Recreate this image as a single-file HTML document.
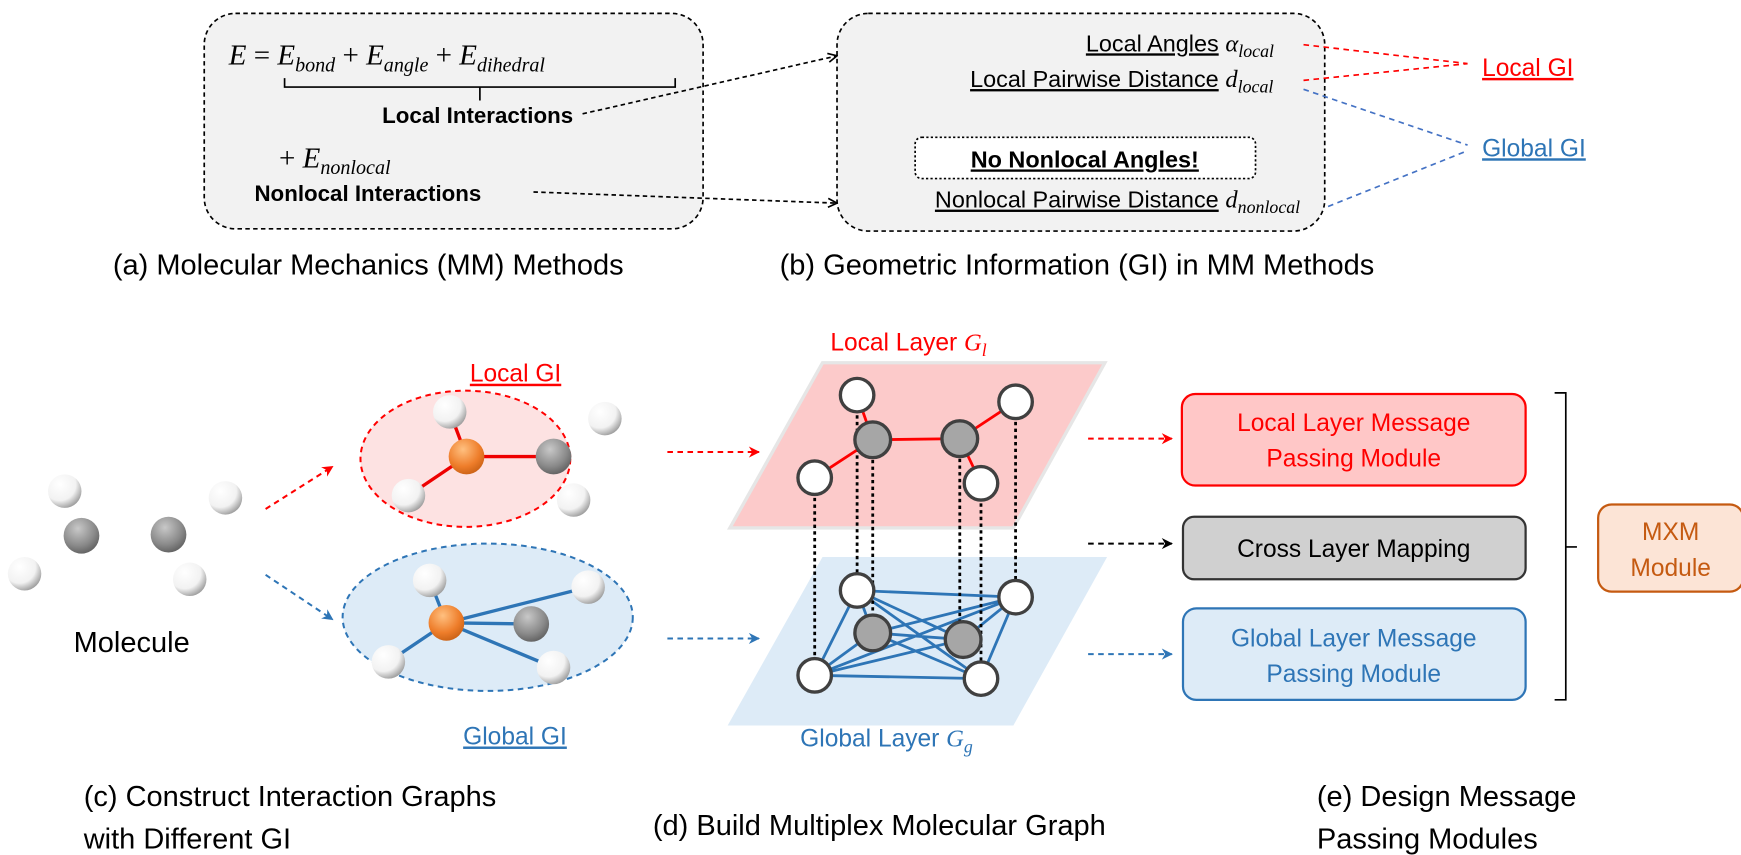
<!DOCTYPE html>
<html><head><meta charset="utf-8"><style>
body{margin:0;background:#fff}
svg{display:block;font-family:"Liberation Sans",sans-serif}
.m{font-family:"Liberation Serif",serif;font-style:italic}
</style></head><body>
<svg width="1741" height="855" viewBox="0 0 1560 766" preserveAspectRatio="none" xmlns="http://www.w3.org/2000/svg">
<defs>
<radialGradient id="gw" cx="0.35" cy="0.3" r="0.8"><stop offset="0" stop-color="#fff"/><stop offset="0.6" stop-color="#f2f2f2"/><stop offset="1" stop-color="#8a8a8a"/></radialGradient>
<radialGradient id="gg" cx="0.4" cy="0.3" r="0.8"><stop offset="0" stop-color="#c8c8c8"/><stop offset="0.6" stop-color="#8a8a8a"/><stop offset="1" stop-color="#555"/></radialGradient>
<radialGradient id="go" cx="0.4" cy="0.3" r="0.8"><stop offset="0" stop-color="#ffc080"/><stop offset="0.6" stop-color="#ee7d2a"/><stop offset="1" stop-color="#c05a10"/></radialGradient>
<marker id="ak" markerWidth="10" markerHeight="10" refX="9" refY="5" orient="auto" markerUnits="userSpaceOnUse"><path d="M1,1 L9,5 L1,9" fill="none" stroke="#000" stroke-width="1.5"/></marker>
<marker id="ar" markerWidth="12" markerHeight="12" refX="10" refY="6" orient="auto" markerUnits="userSpaceOnUse"><path d="M1,1 L11,6 L1,11 L4,6z" fill="#f00"/></marker>
<marker id="ab" markerWidth="12" markerHeight="12" refX="10" refY="6" orient="auto" markerUnits="userSpaceOnUse"><path d="M1,1 L11,6 L1,11 L4,6z" fill="#2e75b6"/></marker>
<marker id="ak2" markerWidth="12" markerHeight="12" refX="10" refY="6" orient="auto" markerUnits="userSpaceOnUse"><path d="M1,1 L11,6 L1,11 L4,6z" fill="#000"/></marker>
</defs>

<!-- (a) box -->
<rect x="183" y="12" width="447" height="193" rx="28" fill="#f2f2f2" stroke="#000" stroke-width="1.5" stroke-dasharray="4,3"/>
<text x="205" y="58" font-size="26" class="m">E <tspan font-style="normal">=</tspan> E<tspan font-size="18" dy="6">bond</tspan><tspan dy="-6" font-style="normal"> + </tspan>E<tspan font-size="18" dy="6">angle</tspan><tspan dy="-6" font-style="normal"> + </tspan>E<tspan font-size="18" dy="6">dihedral</tspan></text>
<path d="M255,70 v8 h350 v-8 M430,78 v12" fill="none" stroke="#000" stroke-width="1.5"/>
<text x="428" y="110" font-size="20" font-weight="bold" text-anchor="middle">Local Interactions</text>
<text x="250" y="150" font-size="26" class="m"><tspan font-style="normal">+ </tspan>E<tspan font-size="18" dy="6">nonlocal</tspan></text>
<text x="228" y="180" font-size="20" font-weight="bold">Nonlocal Interactions</text>

<!-- (b) box -->
<rect x="750" y="12" width="437" height="195" rx="28" fill="#f2f2f2" stroke="#000" stroke-width="1.5" stroke-dasharray="4,3"/>
<text x="1092" y="46" font-size="21" text-anchor="end" text-decoration="underline">Local Angles</text>
<text x="1098" y="46" font-size="22" class="m">α<tspan font-size="16" dy="5">local</tspan></text>
<text x="1092" y="78" font-size="21" text-anchor="end" text-decoration="underline">Local Pairwise Distance</text>
<text x="1098" y="78" font-size="22" class="m">d<tspan font-size="16" dy="5">local</tspan></text>
<rect x="820" y="123" width="305" height="37" rx="6" fill="#fff" stroke="#000" stroke-width="1.5" stroke-dasharray="2,2"/>
<text x="972" y="150" font-size="21" font-weight="bold" text-anchor="middle" text-decoration="underline">No Nonlocal Angles!</text>
<text x="1092" y="186" font-size="21" text-anchor="end" text-decoration="underline">Nonlocal Pairwise Distance</text>
<text x="1098" y="186" font-size="22" class="m">d<tspan font-size="16" dy="5">nonlocal</tspan></text>

<path d="M1168,40 L1315,57 M1168,72 L1315,57" stroke="#f00" stroke-width="1.5" stroke-dasharray="5,4" fill="none"/>
<path d="M1168,80 L1315,130 M1190,185 L1315,135" stroke="#4472c4" stroke-width="1.5" stroke-dasharray="5,4" fill="none"/>
<text x="1328" y="68" font-size="22" fill="#f00" text-decoration="underline">Local GI</text>
<text x="1328" y="140" font-size="22" fill="#2e75b6" text-decoration="underline">Global GI</text>

<path d="M522,102 L750,50" stroke="#000" stroke-width="1.5" stroke-dasharray="4,3" marker-end="url(#ak)"/>
<path d="M478,172 L750,182" stroke="#000" stroke-width="1.5" stroke-dasharray="4,3" marker-end="url(#ak)"/>

<text x="330" y="246" font-size="26" text-anchor="middle">(a) Molecular Mechanics (MM) Methods</text>
<text x="965" y="246" font-size="26" text-anchor="middle">(b) Geometric Information (GI) in MM Methods</text>

<!-- molecule -->
<circle cx="58" cy="440" r="15" fill="url(#gw)"/>
<circle cx="73" cy="480" r="16" fill="url(#gg)"/>
<circle cx="22" cy="514" r="15" fill="url(#gw)"/>
<circle cx="151" cy="479" r="16" fill="url(#gg)"/>
<circle cx="202" cy="446" r="15" fill="url(#gw)"/>
<circle cx="170" cy="519" r="15" fill="url(#gw)"/>
<text x="118" y="584" font-size="26" text-anchor="middle">Molecule</text>
<path d="M238,456 L298,418" stroke="#f00" stroke-width="1.8" stroke-dasharray="5,4" marker-end="url(#ar)"/>
<path d="M238,515 L298,555" stroke="#2e75b6" stroke-width="1.8" stroke-dasharray="5,4" marker-end="url(#ab)"/>

<!-- local GI ellipse -->
<ellipse cx="417" cy="411" rx="94" ry="61" fill="#fde2e2" stroke="#f00" stroke-width="1.8" stroke-dasharray="5,4"/>
<path d="M403,369 L418,409 L496,409 M418,409 L366,444" stroke="#e00" stroke-width="3" fill="none"/>
<circle cx="403" cy="369" r="15" fill="url(#gw)"/>
<circle cx="418" cy="409" r="16" fill="url(#go)"/>
<circle cx="496" cy="409" r="16" fill="url(#gg)"/>
<circle cx="366" cy="444" r="15" fill="url(#gw)"/>
<circle cx="542" cy="375" r="15" fill="url(#gw)"/>
<circle cx="514" cy="448" r="15" fill="url(#gw)"/>
<text x="421" y="342" font-size="22" fill="#f00" text-decoration="underline">Local GI</text>

<!-- global GI ellipse -->
<ellipse cx="437" cy="553" rx="130" ry="66" fill="#ddebf7" stroke="#2e75b6" stroke-width="1.8" stroke-dasharray="5,4"/>
<path d="M385,520 L400,558 L527,526 M400,558 L476,559 M400,558 L496,598 M400,558 L348,593" stroke="#2e75b6" stroke-width="3" fill="none"/>
<circle cx="385" cy="520" r="15" fill="url(#gw)"/>
<circle cx="400" cy="558" r="16" fill="url(#go)"/>
<circle cx="476" cy="559" r="16" fill="url(#gg)"/>
<circle cx="527" cy="526" r="15" fill="url(#gw)"/>
<circle cx="348" cy="593" r="15" fill="url(#gw)"/>
<circle cx="496" cy="598" r="15" fill="url(#gw)"/>
<text x="415" y="667" font-size="22" fill="#2e75b6" text-decoration="underline">Global GI</text>

<path d="M598,405 L680,405" stroke="#f00" stroke-width="1.8" stroke-dasharray="5,4" marker-end="url(#ar)"/>
<path d="M598,572 L680,572" stroke="#2e75b6" stroke-width="1.8" stroke-dasharray="5,4" marker-end="url(#ab)"/>

<!-- multiplex -->
<text x="744" y="314" font-size="22" fill="#f00">Local Layer <tspan class="m">G<tspan font-size="16" dy="5">l</tspan></tspan></text>
<polygon points="737,325 990,325 908,473 654,473" fill="#fccaca" stroke="#e6e6e6" stroke-width="3"/>
<polygon points="737,499 992,499 908,650 652,650" fill="#ddebf7"/>
<g stroke="#2e75b6" stroke-width="2.5">
<path d="M768,529 L910,535 M768,529 L863,573 M768,529 L730,605 M768,529 L879,608 M910,535 L782,567 M910,535 L730,605 M910,535 L879,608 M782,567 L879,608 M782,567 L863,573 M863,573 L730,605 M730,605 L879,608 M782,567 L730,605 M863,573 L910,535 M768,529 L782,567"/>
</g>
<g stroke="#000" stroke-width="2.5" stroke-dasharray="3,3">
<path d="M768,354 V529 M782,394 V567 M860,393 V573 M910,360 V535 M730,428 V605 M879,433 V608"/>
</g>
<path d="M768,354 L782,394 L730,428 M782,394 L860,393 L910,360 M860,393 L879,433" stroke="#f00" stroke-width="2.5" fill="none"/>
<g stroke="#404040" stroke-width="3">
<circle cx="768" cy="354" r="15" fill="#fff"/><circle cx="782" cy="394" r="16" fill="#a6a6a6"/>
<circle cx="860" cy="393" r="16" fill="#a6a6a6"/><circle cx="910" cy="360" r="15" fill="#fff"/>
<circle cx="730" cy="428" r="15" fill="#fff"/><circle cx="879" cy="433" r="15" fill="#fff"/>
<circle cx="768" cy="529" r="15" fill="#fff"/><circle cx="910" cy="535" r="15" fill="#fff"/>
<circle cx="782" cy="567" r="16" fill="#a6a6a6"/><circle cx="863" cy="573" r="16" fill="#a6a6a6"/>
<circle cx="730" cy="605" r="15" fill="#fff"/><circle cx="879" cy="608" r="15" fill="#fff"/>
</g>
<text x="717" y="669" font-size="22" fill="#2e75b6">Global Layer <tspan class="m">G<tspan font-size="16" dy="5">g</tspan></tspan></text>

<path d="M975,393 L1050,393" stroke="#f00" stroke-width="1.8" stroke-dasharray="5,4" marker-end="url(#ar)"/>
<path d="M975,487 L1050,487" stroke="#000" stroke-width="1.8" stroke-dasharray="5,4" marker-end="url(#ak2)"/>
<path d="M975,586 L1050,586" stroke="#2e75b6" stroke-width="1.8" stroke-dasharray="5,4" marker-end="url(#ab)"/>

<rect x="1059" y="353" width="308" height="82" rx="12" fill="#ffc7c7" stroke="#f00" stroke-width="2"/>
<text x="1213" y="386" font-size="22" fill="#f00" text-anchor="middle">Local Layer Message</text>
<text x="1213" y="418" font-size="22" fill="#f00" text-anchor="middle">Passing Module</text>
<rect x="1060" y="463" width="307" height="56" rx="10" fill="#d0d0d0" stroke="#333" stroke-width="2"/>
<text x="1213" y="499" font-size="22" text-anchor="middle">Cross Layer Mapping</text>
<rect x="1060" y="545" width="307" height="82" rx="12" fill="#ddebf7" stroke="#2e75b6" stroke-width="2"/>
<text x="1213" y="579" font-size="22" fill="#2e75b6" text-anchor="middle">Global Layer Message</text>
<text x="1213" y="611" font-size="22" fill="#2e75b6" text-anchor="middle">Passing Module</text>
<path d="M1393,352 h10 v275 h-10 M1403,490 h10" stroke="#000" stroke-width="1.5" fill="none"/>
<rect x="1432" y="452" width="130" height="78" rx="12" fill="#fce4d6" stroke="#c55a11" stroke-width="2"/>
<text x="1497" y="484" font-size="22" fill="#c55a11" text-anchor="middle">MXM</text>
<text x="1497" y="516" font-size="22" fill="#c55a11" text-anchor="middle">Module</text>

<text x="75" y="722" font-size="26">(c) Construct Interaction Graphs</text>
<text x="75" y="760" font-size="26">with Different GI</text>
<text x="585" y="748" font-size="26">(d) Build Multiplex Molecular Graph</text>
<text x="1180" y="722" font-size="26">(e) Design Message</text>
<text x="1180" y="760" font-size="26">Passing Modules</text>
</svg>
</body></html>
